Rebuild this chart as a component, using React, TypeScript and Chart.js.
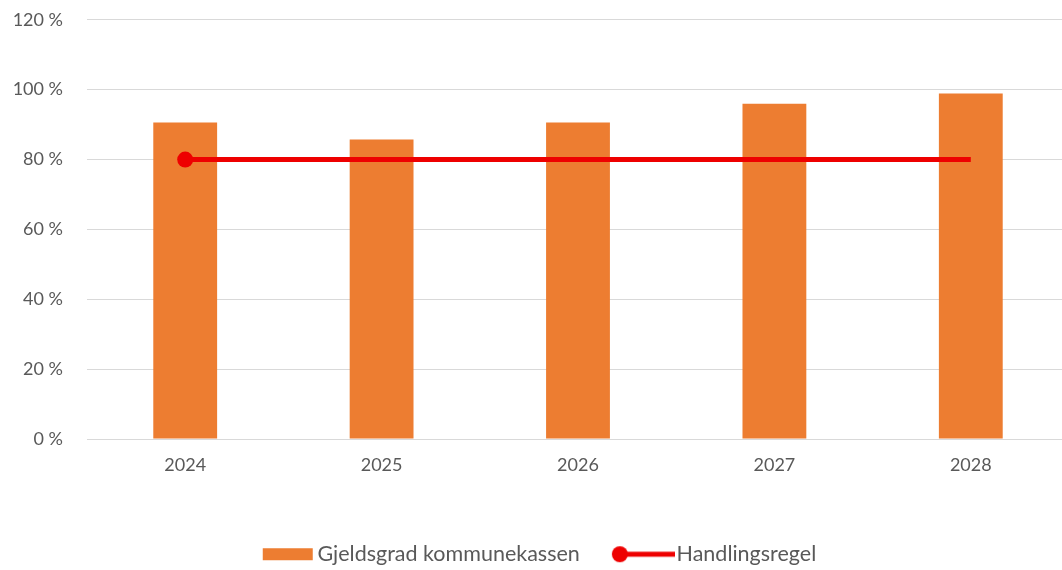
import React, { useEffect, useRef } from "react";
import { Chart, registerables } from "chart.js";

Chart.register(...registerables);

const categories = ["2024", "2025", "2026", "2027", "2028"];
const gjeldsgrad = [90.6, 85.7, 90.6, 96, 98.9];
const handlingsregel = [80, 80, 80, 80, 80];
const seriesNames = ["Gjeldsgrad kommunekassen", "Handlingsregel"];
const yMin = 0;
const yMax = 120;
const yStep = 20;

const ORANGE = "#ED7D31";
const RED = "#EE0000";
const TEXT = "#595959";
const GRID = "#D9D9D9";
const FONT = "Lato, 'Open Sans', sans-serif";

const CANVAS_W = 1077;
const CANVAS_H = 590;
const CANVAS_TOP = -15;

function makeBarIcon(): HTMLCanvasElement {
  const c = document.createElement("canvas");
  c.width = 66;
  c.height = 18;
  const ctx = c.getContext("2d")!;
  ctx.fillStyle = ORANGE;
  ctx.fillRect(13, 3, 50, 12);
  return c;
}

function makeLineIcon(): HTMLCanvasElement {
  const c = document.createElement("canvas");
  c.width = 66;
  c.height = 18;
  const ctx = c.getContext("2d")!;
  ctx.strokeStyle = RED;
  ctx.lineWidth = 5;
  ctx.beginPath();
  ctx.moveTo(11, 9);
  ctx.lineTo(66, 9);
  ctx.stroke();
  ctx.fillStyle = RED;
  ctx.beginPath();
  ctx.arc(11, 9, 8, 0, Math.PI * 2);
  ctx.fill();
  return c;
}

export default function App() {
  const ref = useRef<HTMLCanvasElement>(null);

  useEffect(() => {
    if (!ref.current) return;
    const barIcon = makeBarIcon();
    const lineIcon = makeLineIcon();
    const chart = new Chart(ref.current, {
      type: "bar",
      data: {
        labels: categories,
        datasets: [
          {
            type: "line",
            label: seriesNames[1],
            data: handlingsregel,
            borderColor: RED,
            backgroundColor: RED,
            borderWidth: 5,
            pointRadius: handlingsregel.map((_, i) => (i === 0 ? 8 : 0)),
            pointHoverRadius: 0,
            pointBackgroundColor: RED,
            pointBorderWidth: 0,
            tension: 0,
            order: 0,
          } as any,
          {
            type: "bar",
            label: seriesNames[0],
            data: gjeldsgrad,
            backgroundColor: ORANGE,
            borderWidth: 0,
            barPercentage: 0.325,
            categoryPercentage: 1,
            order: 1,
          },
        ],
      },
      options: {
        animation: false,
        responsive: false,
        maintainAspectRatio: false,
        layout: { padding: { top: 10, right: 2, left: 0, bottom: 0 } },
        plugins: {
          tooltip: { enabled: false },
          legend: {
            position: "bottom",
            labels: {
              usePointStyle: true,
              pointStyleWidth: 48,
              padding: 38,
              color: TEXT,
              font: { family: FONT, size: 21.5 },
              generateLabels: () => [
                {
                  text: seriesNames[0],
                  pointStyle: barIcon,
                  fillStyle: ORANGE,
                  strokeStyle: ORANGE,
                  lineWidth: 0,
                  hidden: false,
                  datasetIndex: 1,
                  fontColor: TEXT,
                } as any,
                {
                  text: seriesNames[1],
                  pointStyle: lineIcon,
                  fillStyle: RED,
                  strokeStyle: RED,
                  lineWidth: 0,
                  hidden: false,
                  datasetIndex: 0,
                  fontColor: TEXT,
                } as any,
              ],
            },
          },
        },
        scales: {
          x: {
            grid: { display: false, drawTicks: false },
            border: { display: true, color: GRID, width: 1 },
            ticks: { color: TEXT, font: { family: FONT, size: 18 }, padding: 15 },
            afterFit: (scale: any) => {
              scale.height = 66.5;
            },
          },
          y: {
            min: yMin,
            max: yMax,
            grid: { color: GRID, lineWidth: 1, drawTicks: false },
            border: { display: false },
            ticks: {
              stepSize: yStep,
              color: TEXT,
              font: { family: FONT, size: 18 },
              padding: 24,
              callback: (v: any) => `${v} %`,
            },
            afterFit: (scale: any) => {
              scale.width = 87;
            },
          },
        },
      },
    });
    return () => chart.destroy();
  }, []);

  return (
    <div
      style={{
        position: "fixed",
        left: 0,
        top: 0,
        width: 1062,
        height: 570,
        overflow: "hidden",
        background: "#fff",
      }}
    >
      <canvas
        ref={ref}
        width={CANVAS_W}
        height={CANVAS_H}
        style={{ display: "block", position: "absolute", left: 0, top: CANVAS_TOP, width: CANVAS_W, height: CANVAS_H }}
      />
    </div>
  );
}
